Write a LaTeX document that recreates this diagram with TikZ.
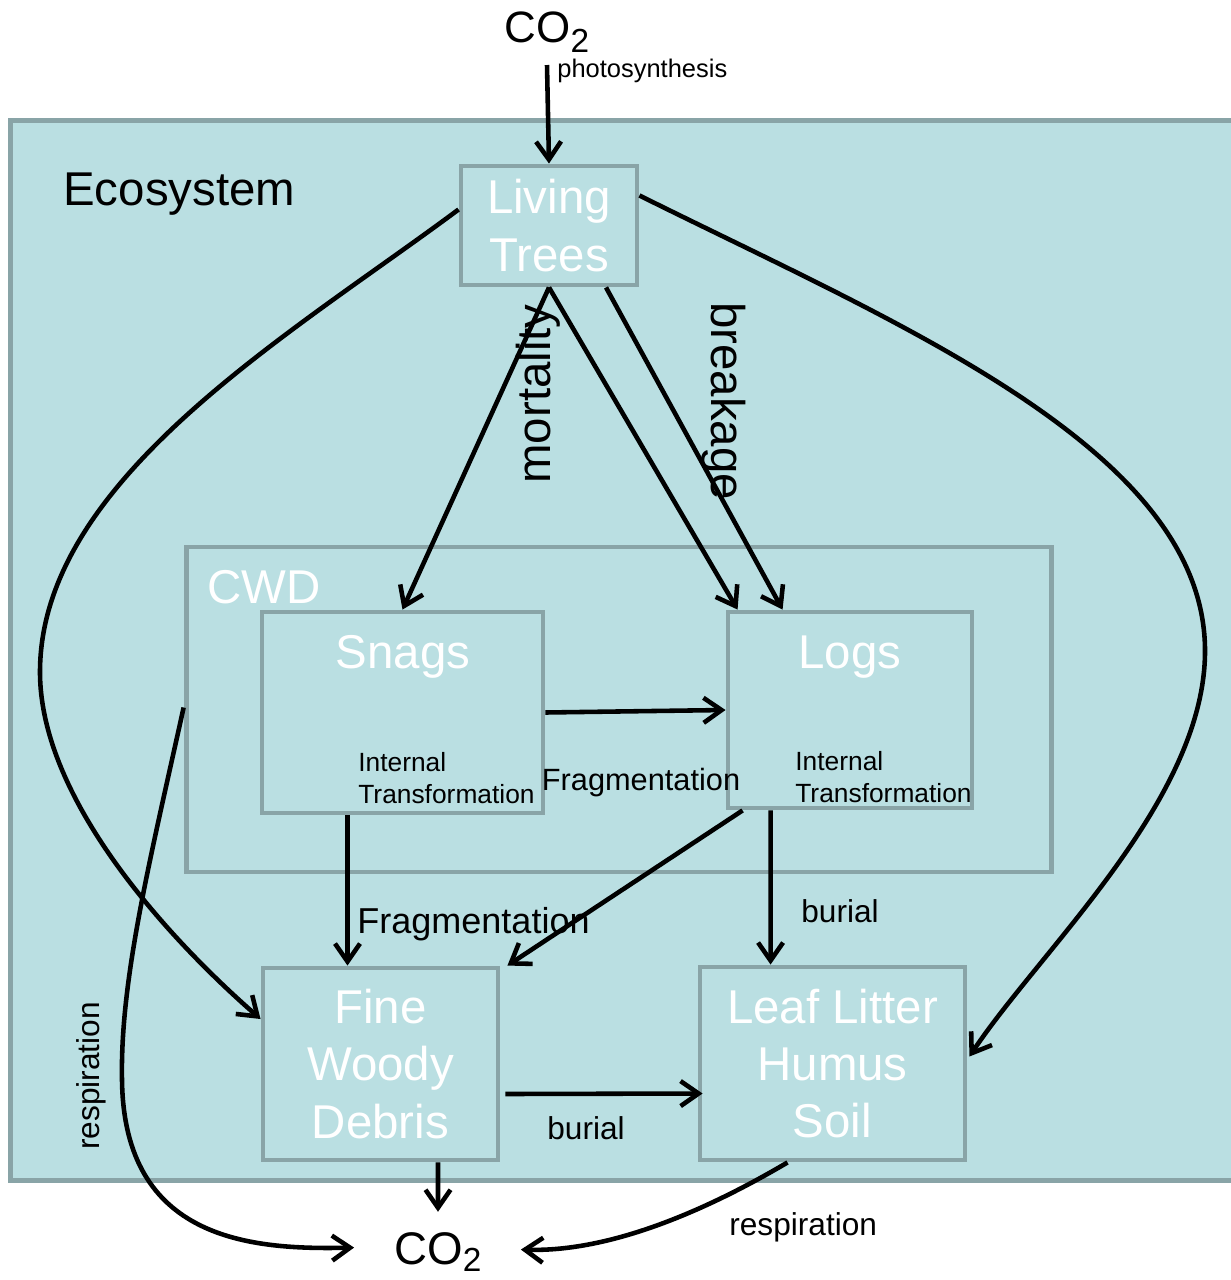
\documentclass[tikz,border=0pt]{standalone}
\usepackage{fontspec}
\setmainfont{Liberation Sans}
\usepackage{tikz}
\usetikzlibrary{arrows.meta}
\usetikzlibrary{calc}

\definecolor{ecofill}{HTML}{BADFE2}
\definecolor{boxline}{HTML}{89A4A7}

\tikzset{
    pool/.style={draw=boxline, line width=2.8pt, fill=ecofill, text=white,
        align=center, inner sep=0pt, font=\fontsize{27}{32.6}\selectfont},
    flow/.style={-{Straight Barb[length=3.6mm, width=5mm]}, line width=2.6pt},
    lbl/.style={inner sep=0pt},
    bigtext/.style={font=\fontsize{27}{32.6}\selectfont},
    midtext/.style={font=\fontsize{18}{21}\selectfont},
    smalltext/.style={font=\fontsize{15}{17.7}\selectfont},
}

\begin{document}
\begin{tikzpicture}[x=0.02cm, y=-0.02cm]
    \useasboundingbox (0,0) rectangle (1230,1280);

    % Ecosystem and CWD frames
    \node[pool, minimum width=24.6cm, minimum height=21.22cm] (eco) at (625,650.5) {};
    \node[lbl, bigtext, anchor=base west] (ecolbl) at (63,206) {Ecosystem};
    \node[pool, minimum width=17.32cm, minimum height=6.5cm] (cwd) at (619,709.5) {};
    \node[lbl, bigtext, text=white, anchor=base west] (cwdlbl) at (207,603) {CWD};

    % Pools
    \node[pool, minimum width=3.52cm, minimum height=2.38cm] (lt) at (549,225.5) {Living\\Trees};
    \node[pool, minimum width=5.62cm, minimum height=4.02cm] (snags) at (402.5,712.5) {};
    \node[pool, minimum width=4.88cm, minimum height=3.92cm] (logs) at (850,710) {};
    \node[pool, minimum width=4.7cm, minimum height=3.84cm] (fwd) at (380.5,1064) {Fine\\Woody\\Debris};
    \node[pool, minimum width=5.3cm, minimum height=3.86cm] (llhs) at (832.5,1063.5) {Leaf Litter\\Humus\\Soil};

    % Pool titles and notes
    \node[lbl, bigtext, text=white, anchor=base] (snagslbl) at (403,668) {Snags};
    \node[lbl, bigtext, text=white, anchor=base] (logslbl) at (850,668) {Logs};
    \node[lbl, smalltext, align=left, anchor=base west] (snagsit) at (358,803) {Internal\\Transformation};
    \node[lbl, smalltext, align=left, anchor=base west] (logsit) at (795,802) {Internal\\Transformation};

    % CO2 in and out
    \node[lbl, font=\fontsize{25}{28}\selectfont, anchor=base] (co2t) at (547,43)
        {CO\raisebox{-5.5pt}{\fontsize{19}{19}\selectfont 2}};
    \node[lbl, font=\fontsize{26}{29}\selectfont, anchor=base] (co2b) at (438,1264)
        {CO\raisebox{-4pt}{\fontsize{19}{19}\selectfont 2}};

    % Flow labels
    \node[lbl, font=\fontsize{14.5}{17}\selectfont, anchor=base west] (photo) at (557,78) {photosynthesis};
    \node[lbl, bigtext, rotate=90] (mort) at (538,394) {mortality};
    \node[lbl, bigtext, rotate=-90] (brk) at (724,401) {breakage};
    \node[lbl, font=\fontsize{17.5}{20}\selectfont, anchor=base] (frag1) at (641,790) {Fragmentation};
    \node[lbl, font=\fontsize{20.5}{23}\selectfont, anchor=base west] (frag2) at (357,933) {Fragmentation};
    \node[lbl, midtext, anchor=base west] (bur1) at (801,922) {burial};
    \node[lbl, midtext, anchor=base west] (bur2) at (547,1139) {burial};
    \node[lbl, midtext, anchor=base west] (resp1) at (729,1235) {respiration};
    \node[lbl, midtext, rotate=90] (resp2) at (91,1076) {respiration};

    % Uptake and mortality
    \draw[flow] ($(co2t.south)+(0,12)$) -- (lt.north);
    \draw[flow] (lt.south) -- (snags.north);
    \draw[flow] (lt.south) -- ($(logs.north west)+(12,0)$);
    \draw[flow] ($(lt.south)+(57,0)$) -- ($(logs.north west)+(57,0)$);

    % Long loops round the sides
    \draw[flow] ($(lt.west)+(0,-16)$) .. controls (290,335) and (40,480) .. (40,672)
        .. controls (40,800) and (170,940) .. ($(fwd.west)+(0,-45)$);
    \draw[flow] ($(lt.east)+(0,-30)$) .. controls (900,325) and (1205,450) .. (1205,651)
        .. controls (1205,800) and (1040,950) .. ($(llhs.east)+(2,-7)$);

    % Fragmentation and burial
    \draw[flow] (snags.east) -- (logs.west);
    \draw[flow] ($(snags.south)+(-55,0)$) -- ($(fwd.north)+(-33,0)$);
    \draw[flow] ($(logs.south west)+(17,0)$) -- ($(fwd.north east)+(7,0)$);
    \draw[flow] ($(logs.south west)+(45,0)$) -- ($(llhs.north west)+(73,0)$);
    \draw[flow] ($(fwd.east)+(5,30)$) -- ($(llhs.west)+(5,30)$);

    % Respiration
    \draw[flow] ($(fwd.south)+(57.5,0)$) -- ($(co2b.north)+(0,-20)$);
    \draw[flow] ($(cwd.west)+(0,-2)$) .. controls (150,860) and (120,980) .. (122,1080)
        .. controls (124,1240) and (250,1250) .. ($(co2b.west)+(-40,-4)$);
    \draw[flow] ($(llhs.south)+(-45,0)$) .. controls (690,1220) and (600,1252) .. ($(co2b.east)+(39,-2)$);

\end{tikzpicture}
\end{document}
